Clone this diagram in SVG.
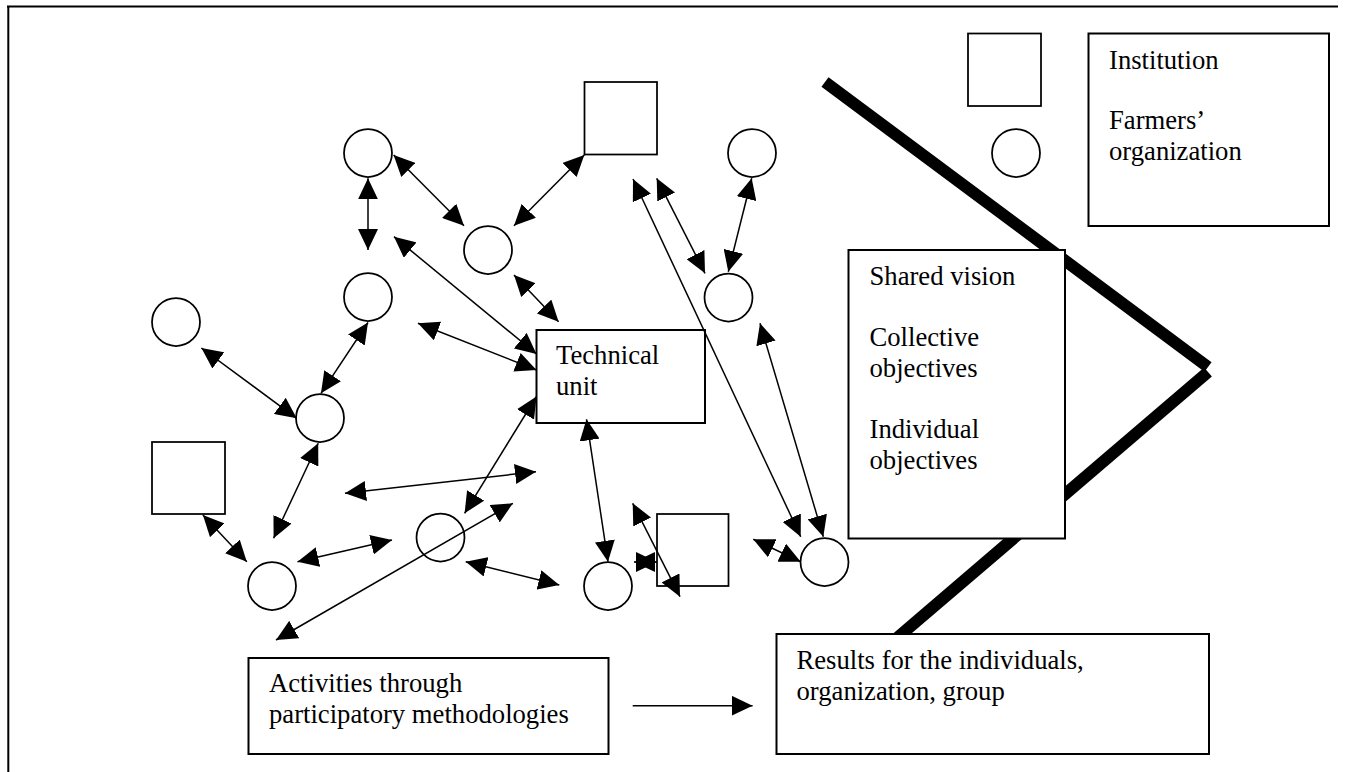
<svg xmlns="http://www.w3.org/2000/svg" width="1346" height="772" viewBox="0 0 1346 772">
  <defs>
    <!-- filled triangular arrowhead, reused at both ends of two-way links -->
    <marker id="ah" markerUnits="userSpaceOnUse" markerWidth="21" markerHeight="20" viewBox="0 0 21 20" refX="21" refY="10" orient="auto-start-reverse">
      <path d="M0,0 L21,10 L0,20 z" fill="#000"/>
    </marker>
  </defs>
  <style>
    .nd { fill: #fff; stroke: #000; stroke-width: 1.75; }
    .box { fill: #fff; stroke: #000; stroke-width: 2; }
    .cn line { stroke: #000; stroke-width: 1.5; fill: none; marker-start: url(#ah); marker-end: url(#ah); }
    .cn line.one { marker-start: none; }
    .band { stroke: #000; stroke-width: 12; fill: none; stroke-linecap: butt; }
    .t { font-family: "Liberation Serif", "Times New Roman", serif; font-size: 26.67px; fill: #000; }
  </style>

  <rect width="1346" height="772" fill="#fff"/>

  <!-- page frame -->
  <g id="frame">
    <path d="M7,6.5 H1338 M8.3,5.5 V772" stroke="#000" stroke-width="2" fill="none"/>
  </g>

  <!-- thick boundary chevron -->
  <g id="boundary">
    <path class="band" d="M825,82 L1208,367"/>
    <path class="band" d="M1208,372 L897,638"/>
  </g>

  <!-- network members -->
  <g id="circle-a"><circle class="nd" cx="368" cy="153" r="24"/></g>
  <g id="circle-b"><circle class="nd" cx="488" cy="250" r="24"/></g>
  <g id="circle-c"><circle class="nd" cx="368" cy="297" r="24"/></g>
  <g id="circle-d"><circle class="nd" cx="176" cy="322" r="24"/></g>
  <g id="circle-e"><circle class="nd" cx="320" cy="418" r="24"/></g>
  <g id="circle-f"><circle class="nd" cx="272" cy="586" r="24"/></g>
  <g id="circle-g"><circle class="nd" cx="440.5" cy="537.5" r="24"/></g>
  <g id="circle-h"><circle class="nd" cx="608" cy="586" r="24"/></g>
  <g id="circle-i"><circle class="nd" cx="824.5" cy="562" r="24"/></g>
  <g id="circle-j"><circle class="nd" cx="728.5" cy="297.5" r="24"/></g>
  <g id="circle-k"><circle class="nd" cx="752" cy="153" r="24"/></g>

  <g id="square-1"><rect class="nd" x="584.5" y="82" width="72.5" height="72.5"/></g>
  <g id="square-2"><rect class="nd" x="152" y="442" width="73" height="72"/></g>
  <g id="square-3"><rect class="nd" x="657" y="514" width="71.5" height="72"/></g>

  <g id="technical-unit">
    <rect class="box" x="536.5" y="330" width="168.5" height="93"/>
    <text class="t" x="556" y="364">Technical</text>
    <text class="t" x="556" y="395">unit</text>
  </g>

  <!-- legend -->
  <g id="legend-square"><rect class="nd" x="968" y="33.5" width="73" height="72.5"/></g>
  <g id="legend-circle"><circle class="nd" cx="1016" cy="153" r="24"/></g>
  <g id="legend">
    <rect class="box" x="1088.5" y="33.5" width="240.5" height="192.5"/>
    <text class="t" x="1109" y="68.5">Institution</text>
    <text class="t" x="1109" y="129">Farmers’</text>
    <text class="t" x="1109" y="160">organization</text>
  </g>

  <g id="shared-vision">
    <rect class="box" x="848.5" y="250" width="216.5" height="288.5"/>
    <text class="t" x="869.5" y="285">Shared vision</text>
    <text class="t" x="869.5" y="346">Collective</text>
    <text class="t" x="869.5" y="377">objectives</text>
    <text class="t" x="869.5" y="438">Individual</text>
    <text class="t" x="869.5" y="469">objectives</text>
  </g>

  <g id="activities">
    <rect class="box" x="248.5" y="658" width="360" height="96"/>
    <text class="t" x="269" y="692">Activities through</text>
    <text class="t" x="269" y="723">participatory methodologies</text>
  </g>

  <g id="results">
    <rect class="box" x="776.5" y="634" width="432.5" height="120"/>
    <text class="t" x="796.5" y="668.5">Results for the individuals,</text>
    <text class="t" x="796.5" y="699.5">organization, group</text>
  </g>

  <!-- links between members -->
  <g id="connectors" class="cn">
    <line x1="393.6" y1="155" x2="464" y2="225.7"/>
    <line x1="514" y1="225.7" x2="584.3" y2="155"/>
    <line x1="368" y1="178.3" x2="368" y2="250"/>
    <line x1="394" y1="236.7" x2="536.5" y2="354"/>
    <line x1="514" y1="275" x2="558.6" y2="321.7"/>
    <line x1="418" y1="323.3" x2="536.5" y2="370"/>
    <line x1="368" y1="322.5" x2="321" y2="393.3"/>
    <line x1="201.4" y1="348" x2="296.7" y2="418.3"/>
    <line x1="318.2" y1="443.3" x2="273.6" y2="538.3"/>
    <line x1="202.9" y1="515" x2="246.8" y2="561.7"/>
    <line x1="297.5" y1="561.7" x2="392" y2="540"/>
    <line x1="536.5" y1="396.5" x2="464.6" y2="513.3"/>
    <line x1="345" y1="493.3" x2="536" y2="471.7"/>
    <line x1="512.9" y1="503.3" x2="276" y2="640"/>
    <line x1="465.7" y1="561.7" x2="559.3" y2="585"/>
    <line x1="586.5" y1="419.3" x2="608" y2="561.7"/>
    <line x1="634" y1="562" x2="657" y2="562"/>
    <line x1="632.7" y1="503.3" x2="680" y2="596.7"/>
    <line x1="633" y1="179" x2="800.7" y2="536.7"/>
    <line x1="656.7" y1="178.3" x2="705" y2="273.3"/>
    <line x1="751.7" y1="178.3" x2="728.3" y2="271.7"/>
    <line x1="760" y1="323.3" x2="823.3" y2="536.7"/>
    <line x1="753.3" y1="539.3" x2="800.7" y2="561.7"/>
    <line class="one" x1="632.7" y1="705.7" x2="752.6" y2="705.7"/>
  </g>
</svg>
